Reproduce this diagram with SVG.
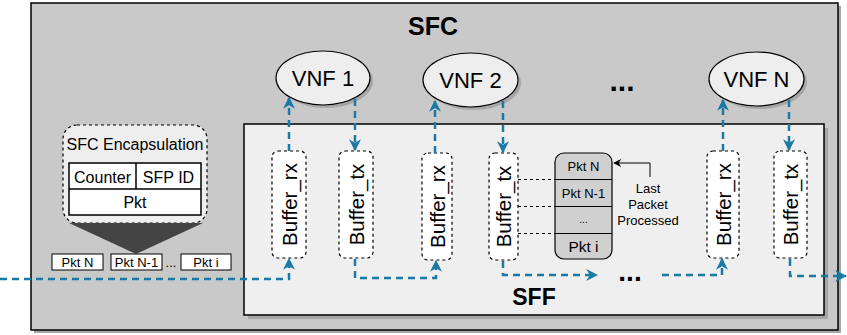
<svg xmlns="http://www.w3.org/2000/svg" width="847" height="335" viewBox="0 0 847 335">
<defs>
<style>
text{font-family:"Liberation Sans",Arial,sans-serif;fill:#000}
.flow{fill:none;stroke:#1a7aa3;stroke-width:2.5;stroke-dasharray:7 5}
.buf{fill:#fff;stroke:#000;stroke-width:1.2;stroke-dasharray:3 3}
.vnf{fill:#eeeeee;stroke:#000;stroke-width:1.2}
.sh{fill:#a6a6a6}
.bt{font-size:20.5px}
.thin{fill:none;stroke:#000;stroke-width:1}
.row{fill:none;stroke:#000;stroke-width:1}
</style>
<marker id="ah" viewBox="0 0 10 10" refX="9" refY="5" markerWidth="12" markerHeight="12" markerUnits="userSpaceOnUse" orient="auto">
<path d="M0,0 L10,5 L0,10 L3,5 z" fill="#1a7aa3"/>
</marker>
<marker id="ahk" viewBox="0 0 10 10" refX="9" refY="5" markerWidth="8" markerHeight="8" markerUnits="userSpaceOnUse" orient="auto">
<path d="M0,0 L10,5 L0,10 L3,5 z" fill="#000"/>
</marker>
</defs>

<g id="sfc">
<rect class="sh" x="34" y="6" width="807" height="327" fill="#b5b5b5"/>
<rect x="31" y="3" width="807" height="327" fill="#c9c9c9" stroke="#000" stroke-width="1.5"/>
<text x="433" y="35" font-size="25" font-weight="bold" text-anchor="middle">SFC</text>
</g>

<g id="sff">
<rect class="sh" x="248" y="128" width="580" height="191"/>
<rect x="244" y="124" width="580" height="191" fill="#efefef" stroke="#000" stroke-width="1.5"/>
<text x="534" y="305" font-size="23" font-weight="bold" text-anchor="middle">SFF</text>
</g>

<g id="vnf1">
<ellipse cx="326" cy="81" rx="47" ry="27" class="sh"/>
<ellipse cx="323" cy="78" rx="47" ry="27" class="vnf"/>
<text x="323" y="86" font-size="22" text-anchor="middle">VNF 1</text>
</g>
<g id="vnf2">
<ellipse cx="473.5" cy="83" rx="47.5" ry="27" class="sh"/>
<ellipse cx="470.5" cy="80" rx="47.5" ry="27" class="vnf"/>
<text x="470.5" y="88" font-size="22" text-anchor="middle">VNF 2</text>
</g>
<g id="vnfn">
<ellipse cx="759.5" cy="82" rx="47.5" ry="27" class="sh"/>
<ellipse cx="756.5" cy="79" rx="47.5" ry="27" class="vnf"/>
<text x="756.5" y="87" font-size="22" text-anchor="middle">VNF N</text>
</g>
<g id="dots-top">
<text x="622" y="91" font-size="30" font-weight="bold" text-anchor="middle">...</text>
</g>

<g id="buf-rx1">
<rect x="272" y="151" width="34" height="107" rx="6" class="buf"/>
<text class="bt" transform="translate(296.5,204.5) rotate(-90)" text-anchor="middle">Buffer_rx</text>
</g>
<g id="buf-tx1">
<rect x="339" y="151" width="34" height="107" rx="6" class="buf"/>
<text class="bt" transform="translate(363.5,204.5) rotate(-90)" text-anchor="middle">Buffer_tx</text>
</g>
<g id="buf-rx2">
<rect x="422" y="153" width="30" height="107" rx="6" class="buf"/>
<text class="bt" transform="translate(444.5,206.5) rotate(-90)" text-anchor="middle">Buffer_rx</text>
</g>
<g id="buf-tx2">
<rect x="489" y="153" width="29" height="107" rx="6" class="buf"/>
<text class="bt" transform="translate(511,206.5) rotate(-90)" text-anchor="middle">Buffer_tx</text>
</g>
<g id="buf-rxn">
<rect x="707" y="151" width="32" height="107" rx="6" class="buf"/>
<text class="bt" transform="translate(730.5,204.5) rotate(-90)" text-anchor="middle">Buffer_rx</text>
</g>
<g id="buf-txn">
<rect x="774" y="151" width="33" height="107" rx="6" class="buf"/>
<text class="bt" transform="translate(798,204.5) rotate(-90)" text-anchor="middle">Buffer_tx</text>
</g>

<g id="queue">
<rect x="555" y="153" width="57" height="106" rx="9" fill="#d0d0d0" stroke="#000" stroke-width="1.2"/>
<line class="row" x1="555" y1="179.5" x2="612" y2="179.5"/>
<line class="row" x1="555" y1="206.5" x2="612" y2="206.5"/>
<line class="row" x1="555" y1="233.5" x2="612" y2="233.5"/>
<text x="583.5" y="171" font-size="13" text-anchor="middle">Pkt N</text>
<text x="583.5" y="198" font-size="13" text-anchor="middle">Pkt N-1</text>
<text x="583.5" y="223" font-size="10" text-anchor="middle">...</text>
<text x="583.5" y="252" font-size="15.5" text-anchor="middle">Pkt i</text>
</g>

<g id="last-label">
<path class="thin" d="M650,177 V163 H614" marker-end="url(#ahk)"/>
<text x="648" y="193" font-size="13" text-anchor="middle">Last</text>
<text x="648" y="209" font-size="13" text-anchor="middle">Packet</text>
<text x="648" y="225" font-size="13" text-anchor="middle">Processed</text>
</g>

<g id="encap">
<rect x="63" y="125" width="144" height="98" rx="14" fill="#eeeeee" stroke="#000" stroke-width="1.2" stroke-dasharray="3 3"/>
<text x="135" y="150" font-size="16" text-anchor="middle">SFC Encapsulation</text>
<rect x="69" y="163" width="132" height="52" fill="#fff" stroke="#000" stroke-width="1.5"/>
<line x1="69" y1="189" x2="201" y2="189" stroke="#000" stroke-width="1.5"/>
<line x1="136" y1="163" x2="136" y2="189" stroke="#000" stroke-width="1.5"/>
<text x="102.5" y="183" font-size="16" text-anchor="middle">Counter</text>
<text x="168.5" y="183" font-size="16" text-anchor="middle">SFP ID</text>
<text x="135" y="208" font-size="16" text-anchor="middle">Pkt</text>
<path d="M69,223 L203,223 L136,254 Z" fill="#444444"/>
</g>

<g id="pkts">
<rect x="52" y="254" width="51" height="16" fill="#fff" stroke="#000" stroke-width="1"/>
<text x="77.5" y="267" font-size="13" text-anchor="middle">Pkt N</text>
<rect x="111" y="254" width="51" height="16" fill="#fff" stroke="#000" stroke-width="1"/>
<text x="136.5" y="267" font-size="13" text-anchor="middle">Pkt N-1</text>
<text x="171" y="267" font-size="13" text-anchor="middle">...</text>
<rect x="181" y="254" width="50" height="16" fill="#fff" stroke="#000" stroke-width="1"/>
<text x="206" y="267" font-size="13" text-anchor="middle">Pkt i</text>
</g>

<g id="dots-bottom">
<text x="630" y="281" font-size="28" font-weight="bold" text-anchor="middle">...</text>
</g>

<g id="connectors">
<line x1="518" y1="179.5" x2="555" y2="179.5" class="thin" stroke-dasharray="3 3"/>
<line x1="518" y1="206.5" x2="555" y2="206.5" class="thin" stroke-dasharray="3 3"/>
<line x1="518" y1="233.5" x2="555" y2="233.5" class="thin" stroke-dasharray="3 3"/>
<path class="flow" d="M289,151 V98" marker-end="url(#ah)"/>
<path class="flow" d="M355,99 V150" marker-end="url(#ah)"/>
<path class="flow" d="M435,153 V101" marker-end="url(#ah)"/>
<path class="flow" d="M503,101 V152" marker-end="url(#ah)"/>
<path class="flow" d="M723,151 V100" marker-end="url(#ah)"/>
<path class="flow" d="M789,100 V150" marker-end="url(#ah)"/>
<path class="flow" d="M0,279 H289 V259" marker-end="url(#ah)"/>
<path class="flow" d="M355,259 V278 H436 V261" marker-end="url(#ah)"/>
<path class="flow" d="M503,261 V275 H597" marker-end="url(#ah)"/>
<path class="flow" d="M662,275 H722 V259" marker-end="url(#ah)"/>
<path class="flow" d="M790,259 V276 H846" marker-end="url(#ah)"/>
</g>
</svg>
